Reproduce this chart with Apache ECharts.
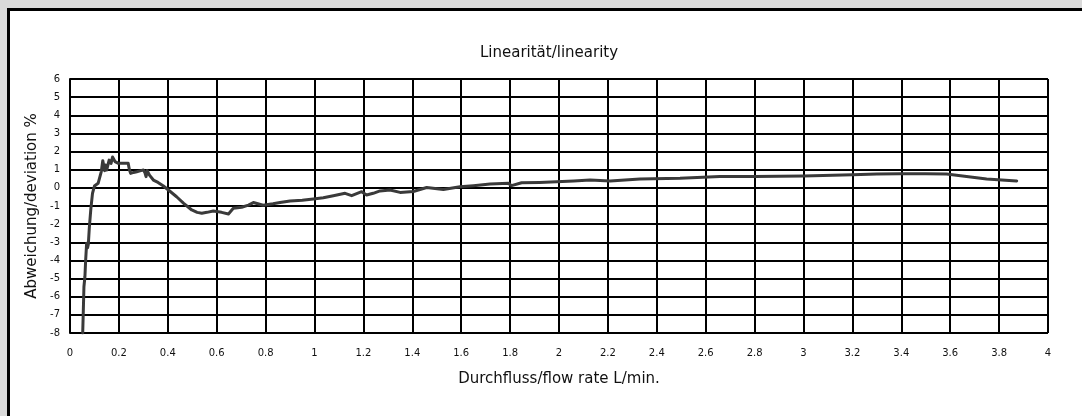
<!DOCTYPE html>
<html>
<head>
<meta charset="utf-8">
<script src="https://cdn.jsdelivr.net/npm/echarts@6/dist/echarts.min.js"></script>
<style>
html,body{margin:0;padding:0;background:#dadada;width:1082px;height:416px;overflow:hidden;}
#panel{position:absolute;left:7px;top:8px;width:1100px;height:430px;border:3px solid #000;background:#fff;}
#chart{position:absolute;left:0;top:0;width:1082px;height:416px;}
</style>
</head>
<body>
<div id="panel"></div>
<div id="chart"></div>
<script>
const titleText = 'Linearität/linearity';
const xName = 'Durchfluss/flow rate L/min.';
const yName = 'Abweichung/deviation %';

const flowRate = [0.052,0.054,0.057,0.061,0.064,0.068,0.072,0.075,0.079,0.085,0.092,0.100,0.106,0.115,0.123,0.128,0.134,0.138,0.142,0.146,0.150,0.156,0.160,0.164,0.168,0.174,0.180,0.184,0.190,0.198,0.215,0.238,0.243,0.248,0.260,0.273,0.290,0.300,0.306,0.311,0.316,0.325,0.341,0.360,0.382,0.410,0.436,0.465,0.498,0.520,0.539,0.560,0.586,0.620,0.648,0.668,0.702,0.730,0.750,0.790,0.830,0.859,0.900,0.950,0.995,1.036,1.077,1.125,1.152,1.193,1.213,1.240,1.268,1.309,1.350,1.404,1.459,1.527,1.595,1.650,1.718,1.793,1.806,1.847,1.920,1.990,2.060,2.127,2.209,2.331,2.495,2.658,2.800,3.000,3.200,3.300,3.395,3.500,3.585,3.667,3.749,3.872];
const deviation = [-8.00,-7.00,-5.45,-4.90,-4.00,-3.06,-3.30,-3.10,-2.20,-1.20,-0.30,0.10,0.15,0.25,0.30,0.90,1.50,1.55,0.95,1.26,0.98,1.00,1.53,1.60,1.35,1.70,1.75,1.45,1.50,1.35,1.35,1.35,1.00,0.80,0.85,0.89,0.95,0.98,0.85,0.62,0.95,0.70,0.43,0.30,0.10,-0.20,-0.49,-0.85,-1.22,-1.35,-1.40,-1.35,-1.28,-1.35,-1.44,-1.13,-1.07,-0.95,-0.81,-0.96,-0.88,-0.81,-0.72,-0.68,-0.61,-0.54,-0.43,-0.30,-0.43,-0.21,-0.39,-0.30,-0.17,-0.12,-0.25,-0.20,0.02,-0.09,0.06,0.12,0.21,0.25,0.12,0.28,0.30,0.34,0.38,0.43,0.38,0.49,0.53,0.62,0.62,0.65,0.72,0.76,0.78,0.78,0.76,0.62,0.49,0.38];

const xMin = 0, xMax = 4, xStep = 0.2;
const yMin = -8, yMax = 6, yStep = 1;

const seriesData = flowRate.map((x, i) => [x, deviation[i]]);
const font = '"DejaVu Sans", sans-serif';

const chart = echarts.init(document.getElementById('chart'), null, {renderer: 'canvas'});
chart.setOption({
  backgroundColor: 'transparent',
  animation: false,
  title: {
    text: titleText,
    left: 544, top: 41, textAlign: 'center',
    textStyle: {fontFamily: font, fontSize: 15, fontWeight: 'normal', color: '#111'}
  },
  grid: {left: 70, right: 34, top: 79, bottom: 83},
  xAxis: {
    type: 'value', min: xMin, max: xMax, interval: xStep,
    name: xName, nameLocation: 'middle', nameGap: 39,
    nameTextStyle: {fontFamily: font, fontSize: 15, color: '#111'},
    axisLine: {show: true, lineStyle: {color: '#000', width: 2}},
    axisTick: {show: true, length: 6, lineStyle: {color: '#000', width: 2}},
    axisLabel: {fontFamily: font, fontSize: 10, color: '#111', margin: 15},
    splitLine: {show: true, lineStyle: {color: '#000', width: 2}}
  },
  yAxis: {
    type: 'value', min: yMin, max: yMax, interval: yStep,
    name: yName, nameLocation: 'middle', nameGap: 29,
    nameTextStyle: {fontFamily: font, fontSize: 15, color: '#111'},
    axisLine: {show: true, lineStyle: {color: '#000', width: 2}},
    axisTick: {show: false},
    axisLabel: {fontFamily: font, fontSize: 10, color: '#111', margin: 10},
    splitLine: {show: true, lineStyle: {color: '#000', width: 2}}
  },
  series: [{
    type: 'line',
    data: seriesData,
    showSymbol: false,
    symbol: 'none',
    lineStyle: {color: '#3a3a3a', width: 3, join: 'round', cap: 'round'},
    z: 5
  }]
});
</script>
</body>
</html>
